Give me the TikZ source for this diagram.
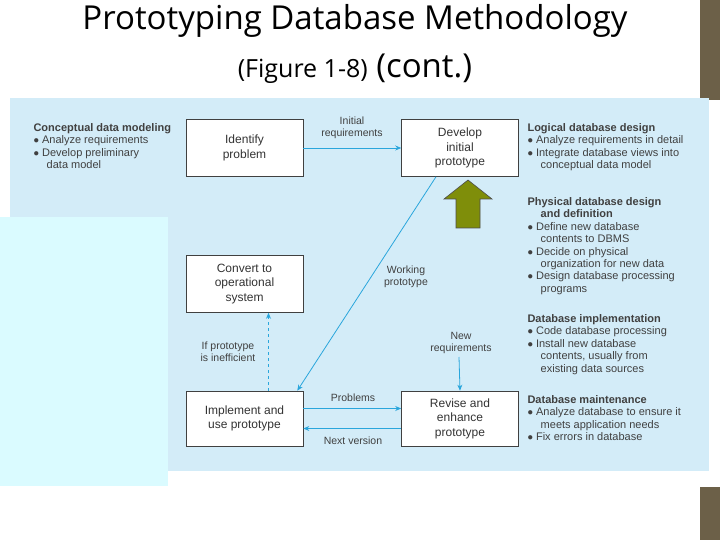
\documentclass[tikz,border=0pt]{standalone}
\usepackage{fontspec}
\setmainfont{Liberation Sans}
\newfontfamily\titlefont{Open Sans}
\usetikzlibrary{arrows.meta}
\definecolor{panel}{HTML}{D3ECF8}
\definecolor{cyanbox}{HTML}{DAFBFF}
\definecolor{arr}{HTML}{2AA6DC}
\definecolor{olive}{HTML}{7F8E0A}
\definecolor{bar}{HTML}{6C6048}
\tikzset{
 proc/.style={draw=black!75,fill=white,line width=0.6pt,minimum width=117pt,minimum height=57pt,align=center,font=\fontsize{12}{14.5}\selectfont,text=black!80},
 lbl/.style={align=center,font=\fontsize{10.5}{12}\selectfont,text=black!75},
 side/.style={align=left,anchor=north west,font=\fontsize{11}{12.4}\selectfont,text=black!75},
 flow/.style={draw=arr,line width=0.8pt,-{Stealth[length=6pt,width=5pt]}}
}
\begin{document}
\begin{tikzpicture}[x=1pt,y=-1pt]
\useasboundingbox (0,0) rectangle (720,540);
\fill[white] (0,0) rectangle (720,540);
\fill[bar] (700,0) rectangle (720,100);
\fill[bar] (700,487) rectangle (720,540);
\fill[panel] (10,98) rectangle (709,471);
\fill[cyanbox] (0,217) rectangle (168,486);
\node[font=\titlefont\fontsize{33}{36}\selectfont] (t1) at (355,21) {Prototyping Database Methodology};
\node[font=\titlefont\fontsize{33}{36}\selectfont,anchor=base] (t2) at (355,78) {{\fontsize{25}{28}\selectfont(Figure 1-8)} (cont.)};
\node[proc] (id) at (244.5,148) {Identify\\problem};
\node[proc] (dev) at (460,148) {Develop\\initial\\prototype};
\node[proc] (conv) at (244.5,284) {Convert to\\operational\\system};
\node[proc,minimum height=55pt] (imp) at (244.5,418.5) {Implement and\\use prototype};
\node[proc,minimum height=55pt] (rev) at (460,418.5) {Revise and\\enhance\\prototype};
\draw[flow] (id.east) -- (dev.west);
\node[lbl] (l1) at (352,128) {Initial\\requirements};
\draw[flow] ([xshift=-24pt]dev.south) -- ([xshift=-6pt]imp.north east);
\node[lbl] (l2) at (406,277) {Working\\prototype};
\draw[flow,dashed] ([xshift=24pt]imp.north) -- ([xshift=24pt]conv.south);
\node[lbl] (l3) at (228,352) {If prototype\\is inefficient};
\coordinate (nr) at (459,357);
\draw[flow] (nr) -- (rev.north);
\node[lbl] (l4) at (461,343) {New\\requirements};
\draw[flow] ([yshift=10pt]imp.east) -- ([yshift=10pt]rev.west);
\node[lbl] (l5) at (353,398) {Problems};
\draw[flow] ([yshift=-10pt]rev.west) -- ([yshift=-10pt]imp.east);
\node[lbl] (l6) at (353,441) {Next version};
\fill[olive,draw=black!70,line width=0.6pt] (456,228) -- (480,228) -- (480,199) -- (492,199) -- (468,180) -- (444,199) -- (456,199) -- cycle;
\node[side] (s1) at (30,120) {\textbf{Conceptual data modeling}\\$\bullet$ Analyze requirements\\$\bullet$ Develop preliminary\\\hspace*{1.2em}data model};
\node[side] (s2) at (524,120) {\textbf{Logical database design}\\$\bullet$ Analyze requirements in detail\\$\bullet$ Integrate database views into\\\hspace*{1.2em}conceptual data model};
\node[side] (s3) at (524,194) {\textbf{Physical database design}\\\hspace*{1.2em}\textbf{and definition}\\$\bullet$ Define new database\\\hspace*{1.2em}contents to DBMS\\$\bullet$ Decide on physical\\\hspace*{1.2em}organization for new data\\$\bullet$ Design database processing\\\hspace*{1.2em}programs};
\node[side] (s4) at (524,311) {\textbf{Database implementation}\\$\bullet$ Code database processing\\$\bullet$ Install new database\\\hspace*{1.2em}contents, usually from\\\hspace*{1.2em}existing data sources};
\node[side] (s5) at (524,392) {\textbf{Database maintenance}\\$\bullet$ Analyze database to ensure it\\\hspace*{1.2em}meets application needs\\$\bullet$ Fix errors in database};
\end{tikzpicture}
\end{document}
